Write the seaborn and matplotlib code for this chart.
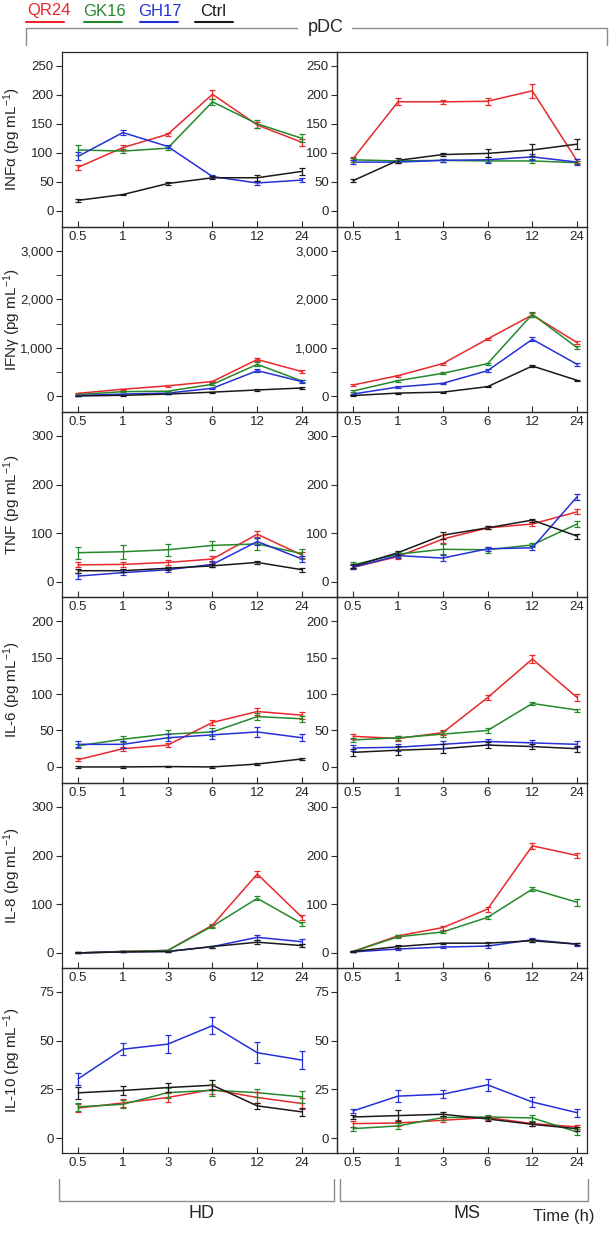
import numpy as np
import pandas as pd
import seaborn as sns
import matplotlib.pyplot as plt
from matplotlib.lines import Line2D

times = ["0.5", "1", "3", "6", "12", "24"]
groups = ["QR24", "GK16", "GH17", "Ctrl"]
colors = ["#e8282b", "#23892b", "#2630d8", "#1a1a1a"]

# each panel: rows are QR24, GK16, GH17, Ctrl
infa_hd = [[75, 109, 132, 201, 148, 118], [105, 103, 108, 188, 150, 125],
           [94, 135, 111, 59, 48, 53], [18, 28, 47, 57, 57, 68]]
infa_hd_err = [[4, 4, 3, 8, 5, 6], [8, 4, 3, 5, 7, 7], [7, 4, 3, 3, 3, 3], [2, 1, 2, 3, 5, 6]]
infa_ms = [[90, 188, 188, 189, 207, 86], [88, 86, 87, 86, 86, 83],
           [84, 84, 87, 88, 93, 84], [52, 87, 97, 99, 105, 115]]
infa_ms_err = [[3, 6, 4, 6, 12, 3], [3, 2, 2, 2, 3, 3], [3, 2, 3, 5, 5, 5], [2, 4, 3, 7, 10, 8]]

ifng_hd = [[55, 140, 210, 300, 755, 505], [30, 90, 100, 242, 655, 310],
           [10, 40, 60, 160, 525, 297], [0, 15, 40, 80, 125, 166]]
ifng_hd_err = [[15, 15, 15, 20, 35, 25], [10, 10, 10, 20, 40, 25], [10, 10, 10, 15, 30, 30], [5, 5, 5, 10, 15, 15]]
ifng_ms = [[228, 421, 669, 1180, 1677, 1104], [103, 317, 469, 669, 1691, 1000],
           [41, 186, 262, 524, 1173, 655], [10, 60, 80, 193, 621, 324]]
ifng_ms_err = [[15, 20, 20, 30, 40, 30], [15, 20, 20, 20, 50, 30], [10, 15, 15, 25, 40, 30], [5, 10, 10, 15, 20, 15]]

tnf_hd = [[35, 36, 40, 47, 98, 55], [60, 62, 66, 75, 78, 58],
          [12, 19, 25, 36, 83, 47], [23, 23, 28, 33, 40, 25]]
tnf_hd_err = [[5, 5, 5, 6, 6, 6], [12, 14, 12, 9, 12, 10], [6, 5, 5, 6, 8, 7], [4, 3, 3, 3, 3, 4]]
tnf_ms = [[30, 52, 88, 111, 119, 144], [35, 57, 67, 66, 76, 119],
          [30, 54, 49, 68, 70, 175], [32, 60, 96, 111, 127, 94]]
tnf_ms_err = [[4, 4, 8, 3, 4, 5], [6, 5, 10, 6, 4, 7], [4, 4, 6, 4, 4, 6], [4, 4, 7, 3, 3, 5]]

il6_hd = [[10, 25, 30, 61, 76, 71], [29, 38, 45, 48, 69, 66],
          [31, 31, 40, 44, 48, 40], [0, 0, 0.5, 0, 4, 11]]
il6_hd_err = [[2, 3, 3, 4, 5, 5], [3, 4, 5, 5, 5, 4], [4, 5, 5, 5, 7, 5], [1, 1, 1, 1, 1, 1]]
il6_ms = [[42, 39, 47, 95, 148, 95], [37, 40, 45, 50, 87, 78],
          [26, 27, 31, 35, 33, 31], [20, 23, 25, 30, 28, 25]]
il6_ms_err = [[3, 3, 3, 3, 5, 5], [3, 3, 4, 3, 2, 2], [4, 5, 5, 4, 4, 4], [5, 6, 6, 4, 4, 4]]

il8_hd = [[0, 3, 5, 57, 162, 73], [0, 3, 5, 55, 112, 60],
          [0, 2, 3, 13, 32, 23], [0, 2, 3, 13, 22, 15]]
il8_hd_err = [[1, 1, 1, 3, 6, 5], [1, 1, 1, 3, 4, 4], [1, 1, 1, 2, 5, 5], [1, 1, 1, 2, 4, 3]]
il8_ms = [[3, 35, 52, 90, 220, 200], [3, 33, 43, 73, 131, 104],
          [2, 8, 12, 14, 27, 18], [3, 13, 20, 20, 25, 18]]
il8_ms_err = [[1, 2, 4, 5, 6, 5], [1, 3, 3, 3, 4, 7], [1, 2, 2, 3, 4, 3], [1, 3, 1, 3, 3, 2]]

il10_hd = [[15.4, 18, 20.8, 24.9, 20.8, 17.7], [16, 17.3, 23.3, 24.5, 23.3, 21.1],
           [30.4, 45.6, 48.2, 57.7, 43.8, 40], [23.2, 24.4, 25.9, 27.1, 16.5, 13.4]]
il10_hd_err = [[2, 2, 2.5, 2.5, 3, 3], [2, 2, 2.5, 3, 2, 3], [3, 3, 4.5, 4.5, 5.5, 4.5], [3, 2.5, 2.5, 2.5, 1.5, 2]]
il10_ms = [[7.4, 7.7, 9.1, 10.5, 7.4, 5.7], [4.8, 6.2, 10.5, 10.8, 10.3, 3.1],
           [13.9, 21.5, 22.5, 27.3, 18.5, 13], [10.8, 11.5, 12.2, 9.8, 7, 4.8]]
il10_ms_err = [[1.5, 1.5, 1, 1, 1, 1], [1, 1.5, 1, 1, 1.5, 1.5], [1, 3, 2, 3, 2.5, 2], [1, 3, 1, 1, 1, 1]]

ylabels = ["INFα", "IFNγ", "TNF", "IL-6", "IL-8", "IL-10"]
yticks = [[0, 50, 100, 150, 200, 250], [0, 1000, 2000, 3000], [0, 100, 200, 300],
          [0, 50, 100, 150, 200], [0, 100, 200, 300], [0, 25, 50, 75]]
ytick_labels = [["0", "50", "100", "150", "200", "250"], ["0", "1,000", "2,000", "3,000"],
                ["0", "100", "200", "300"], ["0", "50", "100", "150", "200"],
                ["0", "100", "200", "300"], ["0", "25", "50", "75"]]
ylims = [(-28, 274), (-331, 3497), (-31, 349), (-22, 233), (-31, 349), (-7.7, 87.3)]

panels = [(infa_hd, infa_hd_err, infa_ms, infa_ms_err), (ifng_hd, ifng_hd_err, ifng_ms, ifng_ms_err),
          (tnf_hd, tnf_hd_err, tnf_ms, tnf_ms_err), (il6_hd, il6_hd_err, il6_ms, il6_ms_err),
          (il8_hd, il8_hd_err, il8_ms, il8_ms_err), (il10_hd, il10_hd_err, il10_ms, il10_ms_err)]

sns.set_style("ticks")
plt.rcParams['font.family'] = ['Liberation Sans', 'DejaVu Sans']
plt.rcParams['mathtext.fontset'] = 'custom'
plt.rcParams['mathtext.rm'] = 'Liberation Sans'
plt.rcParams['mathtext.it'] = 'Liberation Sans:italic'
plt.rcParams['mathtext.bf'] = 'Liberation Sans:bold'

W, H = 610, 1233
fig = plt.figure(figsize=(W / 100, H / 100), dpi=100)
fig.patch.set_facecolor('white')


def fx(px):
    return px / W


def fy(py):
    return 1 - py / H


row_edges = [52, 227, 412, 597, 783, 968, 1153]
col_edges = [62, 337, 587]
xlims = [(-0.36, 5.78), (-0.36, 5.22)]
spine_col = '#2a2a2a'

for r, (hd, hd_err, ms, ms_err) in enumerate(panels):
    top, bot = row_edges[r], row_edges[r + 1]
    for c, (vals, errs) in enumerate([(hd, hd_err), (ms, ms_err)]):
        left, right = col_edges[c], col_edges[c + 1]
        ax = fig.add_axes([fx(left), fy(bot), (right - left) / W, (bot - top) / H])
        ax.set_facecolor('none')
        df = pd.DataFrame({'t': np.tile(np.arange(len(times)), len(groups)),
                           'v': np.concatenate(vals),
                           'g': np.repeat(groups, len(times))})
        sns.lineplot(data=df, x='t', y='v', hue='g', hue_order=groups, palette=colors,
                     legend=False, ax=ax, lw=1.1)
        for col, v, e in zip(colors, vals, errs):
            ax.errorbar(np.arange(len(times)), v, yerr=e, fmt='none', ecolor=col,
                        elinewidth=0.9, capsize=2.5, capthick=0.9)
        ax.set_xlim(*xlims[c])
        ax.set_ylim(*ylims[r])
        ax.set_xticks(range(len(times)))
        ax.set_xticklabels(times)
        ax.set_yticks(yticks[r])
        ax.set_yticklabels(ytick_labels[r])
        if r == 1:
            ax.set_yticks([500, 1500, 2500], minor=True)
        ax.tick_params(axis='x', direction='in', length=4, pad=3, labelsize=9.5, color=spine_col)
        ax.tick_params(axis='y', which='both', direction='out', length=4, pad=2, labelsize=9.5,
                       color=spine_col)
        ax.set_xlabel('')
        if c == 0:
            ax.set_ylabel(ylabels[r] + r" (pg mL$^{-1}$)", fontsize=11)
            ax.yaxis.set_label_coords(-0.142, 0.5)
        else:
            ax.set_ylabel('')
        for s in ax.spines.values():
            s.set_visible(True)
            s.set_linewidth(0.9)
            s.set_color(spine_col)

# legend on top
leg_x = [(26, 64), (84, 122), (140, 178), (195, 233)]
leg_txt_x = [49, 104, 160, 213]
for g, col, (x0, x1), tx in zip(groups, colors, leg_x, leg_txt_x):
    fig.text(fx(tx), fy(11), g, color=col, ha='center', va='center', fontsize=12)
    fig.add_artist(Line2D([fx(x0), fx(x1)], [fy(22), fy(22)], transform=fig.transFigure,
                          color=col, lw=1.5))

gray = '#8c8c8c'


def bracket_line(xs, ys):
    fig.add_artist(Line2D([fx(x) for x in xs], [fy(y) for y in ys], transform=fig.transFigure,
                          color=gray, lw=1.0))


# pDC bracket
bracket_line([26, 26, 297], [45, 28, 28])
bracket_line([352, 607, 607], [28, 28, 45])
fig.text(fx(326), fy(28), "pDC", ha='center', va='center', fontsize=13)

# HD / MS brackets
bracket_line([59, 59, 334, 334], [1179, 1201, 1201, 1179])
bracket_line([340, 340, 588, 588], [1179, 1201, 1201, 1179])
fig.text(fx(202), fy(1214), "HD", ha='center', va='center', fontsize=13)
fig.text(fx(467), fy(1214), "MS", ha='center', va='center', fontsize=13)
fig.text(fx(564), fy(1217), "Time (h)", ha='center', va='center', fontsize=12)

fig.savefig("out.png", dpi=100)
